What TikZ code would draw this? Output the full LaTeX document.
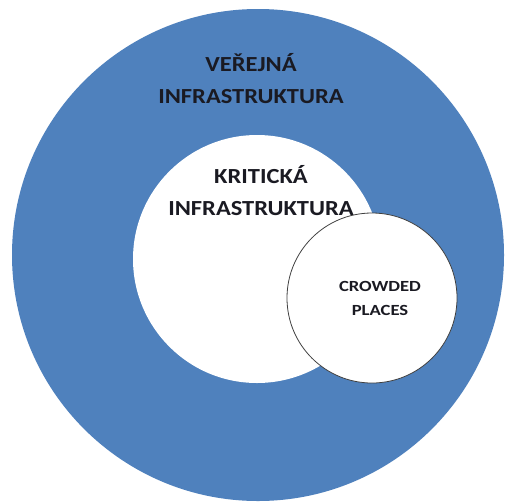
\documentclass[tikz,border=0pt]{standalone}
\usepackage{fontspec}
\setmainfont{Carlito}
\definecolor{ringblue}{HTML}{4F81BD}
\definecolor{txt}{HTML}{1A1A22}
\begin{document}
\begin{tikzpicture}[x=1pt,y=-1pt,
  bigtext/.style={text=txt,align=center,inner sep=0pt,xscale=1.14,
    font=\fontsize{21.5}{32}\selectfont\bfseries},
  smalltext/.style={text=txt,align=center,inner sep=0pt,xscale=1.2,
    font=\fontsize{15.5}{24}\selectfont\bfseries}]
\useasboundingbox (0,0) rectangle (508,501);
\fill[white] (0,0) rectangle (508,501);
\node[circle,fill=ringblue,minimum size=492pt,inner sep=0pt] (outer) at (258,255) {};
\node[circle,fill=white,minimum size=248pt,inner sep=0pt] (inner) at (257,259) {};
\node[circle,fill=white,draw=black!75,line width=0.8pt,minimum size=170pt,inner sep=0pt] (crowd) at (372,298) {};
\node[bigtext] (vt) at (251,79) {VEŘEJNÁ\\INFRASTRUKTURA};
\node[bigtext] (kt) at (261,191) {KRITICKÁ\\INFRASTRUKTURA};
\node[smalltext] (ct) at (380,298) {CROWDED\\PLACES};
\end{tikzpicture}
\end{document}
